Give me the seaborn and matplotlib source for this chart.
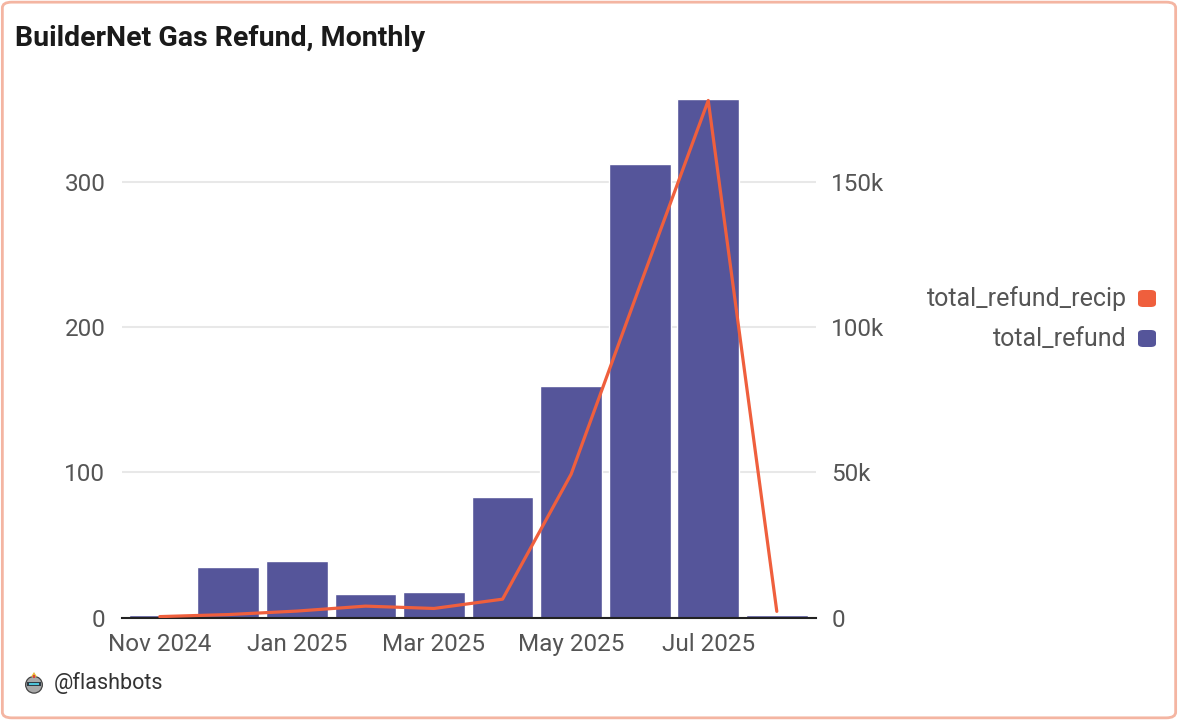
import numpy as np
import pandas as pd
import matplotlib
matplotlib.use("Agg")
import matplotlib.pyplot as plt
import seaborn as sns
from matplotlib.patches import FancyBboxPatch, Circle, Rectangle, Polygon
from matplotlib.ticker import FuncFormatter

# datos
meses = ["Nov 2024", "Dec 2024", "Jan 2025", "Feb 2025", "Mar 2025",
         "Apr 2025", "May 2025", "Jun 2025", "Jul 2025", "Aug 2025"]
total_refund = [2.2, 35, 39.3, 16.4, 18, 82.9, 159.3, 312, 357, 1.9]
total_refund_recip = [400, 1100, 2300, 4000, 3200, 6400, 49400, 114000, 178000, 2200]
etiquetas_x = ["Nov 2024", "", "Jan 2025", "", "Mar 2025", "", "May 2025", "", "Jul 2025", ""]
leyenda = ["total_refund_recip", "total_refund"]

COLOR_BARRA = "#55559A"
COLOR_LINEA = "#EF5F3D"
COLOR_TEXTO = "#555555"

W, H = 1178, 720

sns.set_theme(style="white")
plt.rcParams["font.family"] = ["Roboto", "DejaVu Sans"]

fig = plt.figure(figsize=(W / 100, H / 100), dpi=100)
ax = fig.add_axes([0.1036, 0.142, 0.589, 0.7265])

df = pd.DataFrame({"mes": meses, "total_refund": total_refund})
sns.barplot(data=df, x="mes", y="total_refund", color=COLOR_BARRA,
            width=0.9, saturation=1, ax=ax)

ax.set_xlim(-0.55, len(meses) - 0.43)
ax.set_ylim(0, 360)
ax.set_yticks([0, 100, 200, 300])
ax.set_xticks(range(len(meses)))
ax.set_xticklabels(etiquetas_x)
ax.set_xlabel("")
ax.set_ylabel("")
ax.grid(axis="y", color="#E8E8E8", linewidth=1.5)
ax.set_axisbelow(True)
for lado in ["top", "right", "left"]:
    ax.spines[lado].set_visible(False)
ax.spines["bottom"].set_color("#222222")
ax.spines["bottom"].set_linewidth(1.5)
ax.tick_params(axis="both", length=0, labelsize=17.5, colors=COLOR_TEXTO)
ax.tick_params(axis="x", pad=11)
ax.tick_params(axis="y", pad=12)

# eje derecho con la linea
ax2 = ax.twinx()
sns.lineplot(x=np.arange(len(meses)), y=total_refund_recip, color=COLOR_LINEA,
             linewidth=2.3, ax=ax2)
ax2.set_ylim(0, 180000)
ax2.set_yticks([0, 50000, 100000, 150000])
ax2.yaxis.set_major_formatter(FuncFormatter(lambda v, p: "0" if v == 0 else f"{int(v / 1000)}k"))
for lado in ["top", "right", "left", "bottom"]:
    ax2.spines[lado].set_visible(False)
ax2.tick_params(axis="y", length=0, labelsize=17.5, colors=COLOR_TEXTO, pad=11)
ax2.set_ylabel("")

# leyenda manual a la derecha
for texto, y_px, c in zip(leyenda, [298.5, 338.5], [COLOR_LINEA, COLOR_BARRA]):
    fig.text(1127 / W, 1 - y_px / H, texto, ha="right", va="center",
             fontsize=18, color=COLOR_TEXTO)
    fig.patches.append(FancyBboxPatch((1138 / W, 1 - (y_px + 8.5) / H), 18 / W, 17 / H,
                                      boxstyle="round,pad=0,rounding_size=0.0045",
                                      transform=fig.transFigure, facecolor=c,
                                      edgecolor="none"))

# titulo y pie
fig.text(15 / W, 1 - 38 / H, "BuilderNet Gas Refund, Monthly", ha="left", va="center",
         fontsize=20.5, fontweight="bold", color="#1A1A1A")
fig.text(54 / W, 1 - 683 / H, "@flashbots", ha="left", va="center",
         fontsize=15.5, color="#333333")

# icono pequeno del robot
ax_ico = fig.add_axes([23 / W, 1 - 694 / H, 22 / W, 22 / H])
ax_ico.set_xlim(0, 1)
ax_ico.set_ylim(0, 1)
ax_ico.axis("off")
ax_ico.add_patch(Circle((0.5, 0.42), 0.38, facecolor="#A8A8A8", edgecolor="#444444", linewidth=0.9))
ax_ico.add_patch(Rectangle((0.18, 0.36), 0.64, 0.18, facecolor="#2F3B45", edgecolor="none"))
ax_ico.add_patch(Rectangle((0.28, 0.40), 0.44, 0.1, facecolor="#4FC3D9", edgecolor="none"))
ax_ico.add_patch(Polygon([[0.36, 0.78], [0.5, 1.0], [0.64, 0.78]], facecolor="#E9B73A", edgecolor="none"))
ax_ico.add_patch(Rectangle((0.45, 0.74), 0.1, 0.14, facecolor="#D9453B", edgecolor="none"))

# borde redondeado
fig.patches.append(FancyBboxPatch((0.002, 0.003), 0.996, 0.994,
                                  boxstyle="round,pad=0,rounding_size=0.008",
                                  transform=fig.transFigure, facecolor="none",
                                  edgecolor="#F4B5A2", linewidth=2))

fig.savefig("out.png", dpi=100)
